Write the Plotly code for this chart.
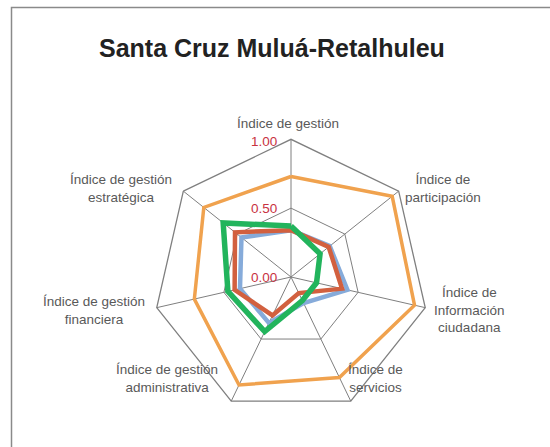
import plotly.graph_objects as go

title = "Santa Cruz Muluá-Retalhuleu"
categories = [
    "Índice de gestión",
    "Índice de participación",
    "Índice de Información ciudadana",
    "Índice de servicios",
    "Índice de gestión administrativa",
    "Índice de gestión financiera",
    "Índice de gestión estratégica",
]
label_texts = [
    "Índice de gestión",
    "Índice de<br>participación",
    "Índice de<br>Información<br>ciudadana",
    "Índice de<br>servicios",
    "Índice de gestión<br>administrativa",
    "Índice de gestión<br>financiera",
    "Índice de gestión<br>estratégica",
]
series_orange = [0.73, 0.94, 0.92, 0.81, 0.87, 0.72, 0.81]
series_blue = [0.34, 0.36, 0.42, 0.21, 0.37, 0.38, 0.46]
series_red = [0.34, 0.35, 0.38, 0.13, 0.31, 0.42, 0.52]
series_green = [0.37, 0.27, 0.19, 0.19, 0.44, 0.47, 0.63]
tick_vals = [0, 0.5, 1.0]
tick_text = ["0.00", "0.50", "1.00"]

W, H = 550, 447
cx, cy, R = 291, 277, 137.7

fig = go.Figure()
styles = [
    (series_orange, "#F0A24E", 3.5),
    (series_blue, "#86ABDA", 4.5),
    (series_red, "#D2603F", 4.5),
    (series_green, "#22B45C", 5.5),
]
for vals, col, w in styles:
    fig.add_trace(go.Scatterpolar(
        r=vals + vals[:1], theta=categories + categories[:1],
        mode="lines", line=dict(color=col, width=w), showlegend=False,
        hoverinfo="skip"))

label_pos = [(288, 124), (443, 188), (469, 310), (375, 378), (167, 378), (94, 310), (121, 189)]
annotations = []
for txt, (px, py) in zip(label_texts, label_pos):
    annotations.append(dict(
        x=px / W, y=1 - py / H, xref="paper", yref="paper", text=txt,
        showarrow=False, xanchor="center", yanchor="middle", align="center",
        font=dict(family="Liberation Sans, Arial", size=13.5, color="#595959")))
for v, t in zip(tick_vals, tick_text):
    annotations.append(dict(
        x=279 / W, y=(H - cy + v * R + (-2 if v == 1.0 else 0)) / H, xref="paper", yref="paper", text=t,
        showarrow=False, xanchor="right", yanchor="middle",
        font=dict(family="Liberation Sans, Arial", size=13.5, color="#C8323F")))
annotations.append(dict(
    x=272 / W, y=1 - 48 / H, xref="paper", yref="paper", text="<b>" + title + "</b>",
    showarrow=False, xanchor="center", yanchor="middle",
    font=dict(family="Liberation Sans, Arial", size=25, color="#222222")))

fig.update_layout(
    width=W, height=H, margin=dict(l=0, r=0, t=0, b=0),
    paper_bgcolor="white", plot_bgcolor="white",
    polar=dict(
        domain=dict(x=[(cx - R) / W, (cx + R) / W], y=[(H - cy - R) / H, (H - cy + R) / H]),
        gridshape="linear", bgcolor="white",
        angularaxis=dict(rotation=90, direction="clockwise", showticklabels=False,
                         ticks="", showline=True, linecolor="#7f7f7f", linewidth=1.3,
                         gridcolor="#7f7f7f", gridwidth=1.3),
        radialaxis=dict(range=[0, 1], tickvals=tick_vals, showticklabels=False,
                        angle=90, showline=False, ticks="",
                        gridcolor="#7f7f7f", gridwidth=1.3),
    ),
    annotations=annotations,
    shapes=[dict(type="rect", xref="paper", yref="paper",
                 x0=11.5 / W, x1=1.05, y0=-0.05, y1=1 - 7.5 / H,
                 line=dict(color="#8a8a8a", width=1.5))],
)
fig.write_html("out.html", config={"displayModeBar": False},
               post_script="document.body.style.margin='0';document.body.style.overflow='hidden';")
